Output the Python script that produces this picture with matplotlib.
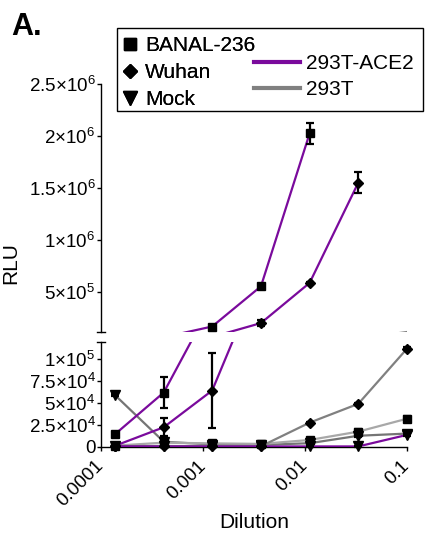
import numpy as np
import matplotlib
matplotlib.use("Agg")
import matplotlib.pyplot as plt
from matplotlib.lines import Line2D
from matplotlib.patches import Rectangle

plt.rcParams['font.family'] = ['Liberation Sans', 'DejaVu Sans']
plt.rcParams['mathtext.fontset'] = 'custom'
plt.rcParams['mathtext.rm'] = 'Liberation Sans'
plt.rcParams['mathtext.it'] = 'Liberation Sans:italic'
plt.rcParams['mathtext.bf'] = 'Liberation Sans:bold'

# ---------------- data ----------------
dilution = [0.000137, 0.000412, 0.00123, 0.0037, 0.0111, 0.0333, 0.1]

banal_ace2 = [1.42e4, 6.19e4, 1.65e5, 5.52e5, 2.024e6, np.nan, np.nan]
banal_ace2_err = [1.5e3, 1.8e4, 1.2e4, 1.2e4, 1.0e5, np.nan, np.nan]
wuhan_ace2 = [1.0e3, 2.22e4, 6.42e4, 1.98e5, 5.85e5, 1.55e6, np.nan]
wuhan_ace2_err = [5e2, 1.05e4, 4.25e4, 2.5e4, 8e3, 1.0e5, np.nan]
mock_ace2 = [4e2, 3e2, 3e2, 3e2, 3e2, 3e2, 1.35e4]
mock_ace2_err = [2e2, 2e2, 2e2, 2e2, 2e2, 2e2, 1e3]

banal_293t = [1.2e3, 4.6e3, 3.8e3, 3.2e3, 7.7e3, 1.72e4, 3.2e4]
banal_293t_err = [5e2, 1e3, 8e2, 8e2, 1.5e3, 3e3, 3e3]
wuhan_293t = [6e2, 8e2, 6e2, 5e2, 2.75e4, 4.9e4, 1.12e5]
wuhan_293t_err = [2e2, 2e2, 2e2, 2e2, 1e3, 1.5e3, 1.5e3]
mock_293t = [5.9e4, 5.7e3, 2.5e3, 2.0e3, 4.0e3, 1.25e4, 1.5e4]
mock_293t_err = [1.5e3, 5e2, 4e2, 4e2, 1.5e3, 1e3, 1e3]

top_ticks = [5e5, 1e6, 1.5e6, 2e6, 2.5e6]
top_labels = [r'$\mathregular{5{\times}10^{5}}$', r'$\mathregular{1{\times}10^{6}}$',
              r'$\mathregular{1.5{\times}10^{6}}$', r'$\mathregular{2{\times}10^{6}}$',
              r'$\mathregular{2.5{\times}10^{6}}$']
bot_ticks = [0, 2.5e4, 5e4, 7.5e4, 1e5]
bot_labels = ['0', r'$\mathregular{2.5{\times}10^{4}}$', r'$\mathregular{5{\times}10^{4}}$',
              r'$\mathregular{7.5{\times}10^{4}}$', r'$\mathregular{1{\times}10^{5}}$']
x_ticks = [0.0001, 0.001, 0.01, 0.1]
x_labels = ['0.0001', '0.001', '0.01', '0.1']

PURPLE = '#7a0a9c'
GRAY = '#808080'

series = [
    # values, err, marker, msize, line color, zorder
    (mock_293t, mock_293t_err, 'v', 7, '#757575', 2),
    (banal_293t, banal_293t_err, 's', 5.5, '#a8a8a8', 2),
    (wuhan_293t, wuhan_293t_err, 'D', 5, GRAY, 2),
    (mock_ace2, mock_ace2_err, 'v', 7, PURPLE, 3),
    (banal_ace2, banal_ace2_err, 's', 5.5, PURPLE, 3),
    (wuhan_ace2, wuhan_ace2_err, 'D', 5, PURPLE, 3),
]

fig = plt.figure(figsize=(4.25, 5.48), dpi=100)
W, H = 425.0, 548.0
x0, x1 = 101, 407
ax_top = fig.add_axes([x0 / W, 1 - 331.7 / H, (x1 - x0) / W, (331.7 - 84) / H])
ax_bot = fig.add_axes([x0 / W, 1 - 446.7 / H, (x1 - x0) / W, (446.7 - 341.7) / H])

top_lim = (1.15e5, 2.5e6)
bot_lim = (0, 1.2e5)

x = np.array(dilution)
for ax, lim, show in ((ax_top, top_lim, (bot_lim[1], top_lim[1])),
                      (ax_bot, bot_lim, bot_lim)):
    for vals, err, mk, ms, col, z in series:
        v = np.array(vals, dtype=float)
        e = np.array(err, dtype=float)
        ax.plot(x, v, color=col, lw=1.6, zorder=z)
        inside = (v >= show[0]) & (v <= show[1])
        vm = np.where(inside, v, np.nan)
        em = np.where(inside, e, np.nan)
        ax.errorbar(x, vm, yerr=em, fmt='none', ecolor='black', elinewidth=1.6,
                    capsize=3, capthick=1.6, zorder=4, clip_on=False)
        ax.plot(x, vm, ls='none', marker=mk, ms=ms, color='black', zorder=5,
                clip_on=False)
    ax.set_xscale('log')
    ax.set_xlim(1e-4, 0.1)
    ax.set_ylim(*lim)
    ax.spines['top'].set_visible(False)
    ax.spines['right'].set_visible(False)
    for s in ax.spines.values():
        s.set_linewidth(1.0)
    ax.tick_params(axis='y', direction='out', length=3, width=1.0, labelsize=13.5, pad=1)
    ax.set_facecolor('none')

ax_top.spines['bottom'].set_visible(False)
ax_top.tick_params(axis='x', which='both', bottom=False, labelbottom=False)
ax_top.set_yticks(top_ticks)
ax_top.set_yticklabels(top_labels)

ax_bot.set_yticks(bot_ticks)
ax_bot.set_yticklabels(bot_labels)
ax_bot.set_xticks(x_ticks)
ax_bot.xaxis.set_minor_locator(matplotlib.ticker.NullLocator())
ax_bot.set_xticklabels(x_labels, rotation=45, ha='right', va='center',
                       rotation_mode='anchor', fontsize=13.5)
ax_bot.tick_params(axis='x', direction='out', length=3, width=1.0, pad=9)

# break caps
d = 0.013
ax_top.plot([-d, d], [0, 0], transform=ax_top.transAxes, color='black', lw=1.0, clip_on=False)
ax_bot.plot([-d, d], [1, 1], transform=ax_bot.transAxes, color='black', lw=1.0, clip_on=False)

# labels
fig.text(11 / W, 1 - 263 / H, 'RLU', rotation=90, ha='center', va='center', fontsize=15)
fig.text(254 / W, 1 - 523 / H, 'Dilution', ha='center', va='center', fontsize=15)
fig.text(11 / W, 1 - 12 / H, 'A.', ha='left', va='top', fontsize=22, fontweight='bold')

# legends
mk_handles = [Line2D([], [], ls='none', marker='s', ms=8.5, color='black'),
              Line2D([], [], ls='none', marker='D', ms=7.5, color='black'),
              Line2D([], [], ls='none', marker='v', ms=9.5, color='black')]
leg1 = fig.legend(mk_handles, ['BANAL-236', 'Wuhan', 'Mock'], loc='upper left',
                  bbox_to_anchor=(115 / W, 1 - 32 / H), frameon=False, fontsize=15,
                  handlelength=1.0, handletextpad=0.25, borderpad=0.2,
                  labelspacing=0.39, borderaxespad=0)
ln_handles = [Line2D([], [], color=PURPLE, lw=3),
              Line2D([], [], color=GRAY, lw=3)]
leg2 = fig.legend(ln_handles, ['293T-ACE2', '293T'], loc='upper left',
                  bbox_to_anchor=(250 / W, 1 - 50 / H), frameon=False, fontsize=15,
                  handlelength=2.2, handletextpad=0.3, borderpad=0.2,
                  labelspacing=0.35, borderaxespad=0)
fig.add_artist(leg1)
fig.patches.append(Rectangle((117 / W, 1 - 111 / H), (423 - 117) / W, (111 - 28) / H,
                             transform=fig.transFigure, fill=False, ec='black', lw=1.0))

fig.savefig('out.png', dpi=100)
